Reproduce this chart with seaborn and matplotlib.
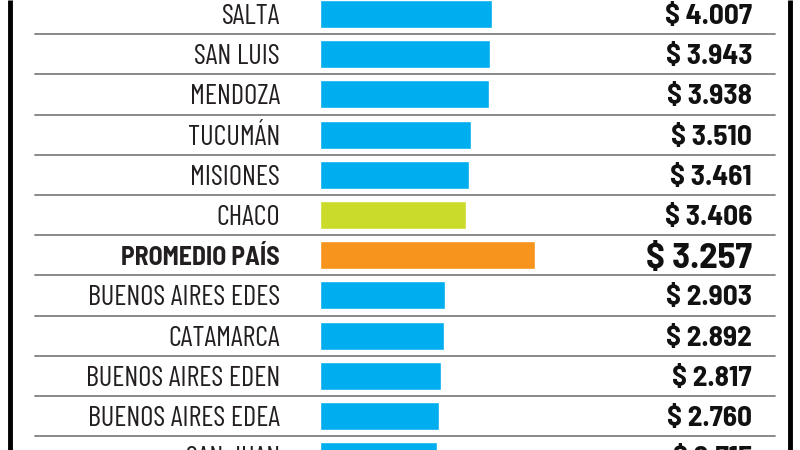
import matplotlib
matplotlib.use("Agg")
import matplotlib.pyplot as plt
import seaborn as sns
import pandas as pd

# rows as they appear, top to bottom
provincias = ["SALTA", "SAN LUIS", "MENDOZA", "TUCUMÁN", "MISIONES", "CHACO",
              "PROMEDIO PAÍS", "BUENOS AIRES EDES", "CATAMARCA",
              "BUENOS AIRES EDEN", "BUENOS AIRES EDEA", "SAN JUAN"]
valores = [4007, 3943, 3938, 3510, 3461, 3406, 3257, 2903, 2892, 2817, 2760, 2715]
# the average bar is drawn longer than its value in the original
largo_barra = [4007, 3943, 3938, 3510, 3461, 3406, 5000, 2903, 2892, 2817, 2760, 2715]
grupo = ["prov", "prov", "prov", "prov", "prov", "chaco",
         "prom", "prov", "prov", "prov", "prov", "prov"]
colores = {"prov": "#00AEEF", "chaco": "#CBDB2A", "prom": "#F7941D"}

df = pd.DataFrame({"provincia": provincias, "largo": largo_barra, "grupo": grupo})

sns.set_style("white")
plt.rcParams["font.family"] = ["Barlow Semi Condensed", "DejaVu Sans"]
fam_cond = ["Barlow Condensed", "DejaVu Sans"]

fig = plt.figure(figsize=(8, 4.5), dpi=100)
ax = fig.add_axes([0, 0, 1, 1])

sns.barplot(data=df, x="largo", y="provincia", hue="grupo", palette=colores,
            dodge=False, width=0.7, legend=False, ax=ax, saturation=1)

n = len(provincias)
ax.set_xlim(-320 * 23.26, 480 * 23.26)
ax.set_ylim((450 - 14) / 40.2, -14 / 40.2)
ax.set_axis_off()

tr = ax.get_yaxis_transform()
for i, (p, v) in enumerate(zip(provincias, valores)):
    es_prom = p == "PROMEDIO PAÍS"
    if es_prom:
        ax.text(0.35, i, p, transform=tr, ha="right", va="center_baseline",
                fontsize=18.5, color="#231F20", fontweight="bold")
    else:
        ax.text(0.35, i, p, transform=tr, ha="right", va="center_baseline",
                fontsize=20.5, color="#231F20", family=fam_cond)
    txt = "$ " + f"{v:,}".replace(",", ".")
    ax.text(0.94, i, txt, transform=tr, ha="right", va="center_baseline",
            fontsize=26.5 if es_prom else 21, fontweight="bold", color="#111111")

for i in range(n - 1):
    ax.axhline(i + 0.5, xmin=0.044, xmax=0.969, color="#808080", lw=1.3)

for xf in (0.013, 0.987):
    ax.plot([xf, xf], [0, 1], transform=ax.transAxes, color="black", lw=3.5,
            solid_capstyle="butt")

fig.savefig("out.png", dpi=100, facecolor="white")
